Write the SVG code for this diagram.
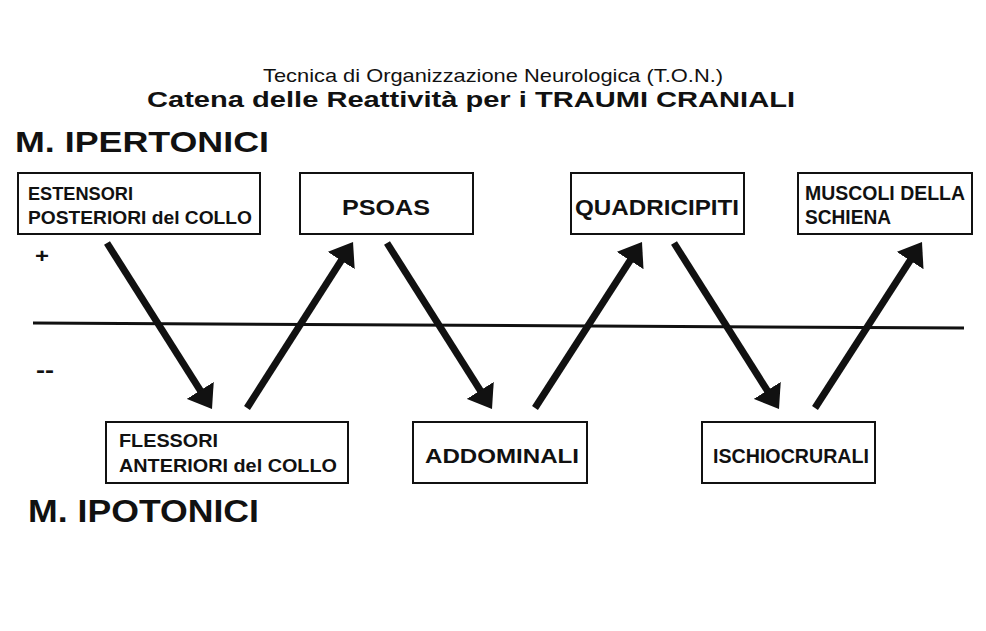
<svg xmlns="http://www.w3.org/2000/svg" width="986" height="631" viewBox="0 0 986 631">
<style>
text{font-family:"Liberation Sans",Arial,sans-serif;fill:#111;font-weight:bold}
text.reg{font-weight:normal}
.box{fill:#fff;stroke:#111;stroke-width:2}
.arr{stroke:#111;stroke-width:7;fill:none;marker-end:url(#ah)}
</style>
<defs>
<marker id="ah" markerUnits="userSpaceOnUse" markerWidth="22" markerHeight="32" viewBox="0 0 22 32" refX="8" refY="16" orient="auto">
<path d="M0,0 L22,16 L0,32 z" fill="#111"/>
</marker>
</defs>
<rect width="986" height="631" fill="#fff"/>
<g id="titles">
<text class="reg" x="263" y="82" font-size="19" textLength="460" lengthAdjust="spacingAndGlyphs">Tecnica di Organizzazione Neurologica (T.O.N.)</text>
<text x="147" y="107" font-size="22" textLength="648" lengthAdjust="spacingAndGlyphs">Catena delle Reattività per i TRAUMI CRANIALI</text>
<text x="15" y="152" font-size="30" textLength="254" lengthAdjust="spacingAndGlyphs">M. IPERTONICI</text>
<text x="28" y="522" font-size="32" textLength="231" lengthAdjust="spacingAndGlyphs">M. IPOTONICI</text>
<text x="35" y="263" font-size="20" textLength="14" lengthAdjust="spacingAndGlyphs">+</text>
<text x="36" y="377" font-size="22" textLength="18" lengthAdjust="spacingAndGlyphs">--</text>
</g>
<g id="connectors">
<line x1="33" y1="323" x2="964" y2="328" stroke="#111" stroke-width="3"/>
<path class="arr" d="M107,243 L204.5,397.2"/>
<path class="arr" d="M247,408 L345.5,253.8"/>
<path class="arr" d="M387,243 L484.5,397.2"/>
<path class="arr" d="M535,408 L634.4,253.8"/>
<path class="arr" d="M674,243 L771.5,397.2"/>
<path class="arr" d="M815,408 L914.4,253.8"/>
</g>
<g id="estensori">
<rect class="box" x="18" y="173" width="242" height="61"/>
<text x="28" y="200" font-size="18" textLength="105" lengthAdjust="spacingAndGlyphs">ESTENSORI</text>
<text x="28" y="224" font-size="18" textLength="224" lengthAdjust="spacingAndGlyphs">POSTERIORI del COLLO</text>
</g>
<g id="psoas">
<rect class="box" x="300" y="173" width="173" height="61"/>
<text x="342" y="215" font-size="22" textLength="88" lengthAdjust="spacingAndGlyphs">PSOAS</text>
</g>
<g id="quadricipiti">
<rect class="box" x="571" y="173" width="173" height="61"/>
<text x="575" y="215" font-size="22" textLength="164" lengthAdjust="spacingAndGlyphs">QUADRICIPITI</text>
</g>
<g id="muscoli">
<rect class="box" x="798" y="173" width="174" height="61"/>
<text x="805" y="200" font-size="20" textLength="160" lengthAdjust="spacingAndGlyphs">MUSCOLI DELLA</text>
<text x="805" y="224" font-size="20" textLength="86" lengthAdjust="spacingAndGlyphs">SCHIENA</text>
</g>
<g id="flessori">
<rect class="box" x="106" y="422" width="242" height="61"/>
<text x="119" y="447" font-size="18" textLength="99" lengthAdjust="spacingAndGlyphs">FLESSORI</text>
<text x="119" y="472" font-size="18" textLength="218" lengthAdjust="spacingAndGlyphs">ANTERIORI del COLLO</text>
</g>
<g id="addominali">
<rect class="box" x="413" y="422" width="174" height="61"/>
<text x="425" y="463" font-size="21" textLength="154" lengthAdjust="spacingAndGlyphs">ADDOMINALI</text>
</g>
<g id="ischiocrurali">
<rect class="box" x="702" y="422" width="173" height="61"/>
<text x="713" y="463" font-size="20" textLength="156" lengthAdjust="spacingAndGlyphs">ISCHIOCRURALI</text>
</g>
</svg>
